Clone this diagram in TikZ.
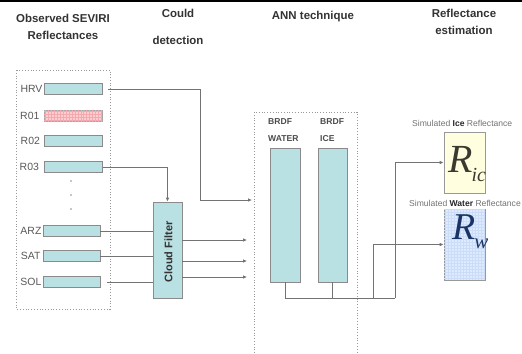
\documentclass[tikz,border=0pt]{standalone}
\usepackage{fontspec}
\setmainfont{Liberation Sans}
\newfontfamily\serifR{Liberation Serif}
\usetikzlibrary{arrows.meta,patterns}
\definecolor{barfill}{HTML}{B9E0E3}
\definecolor{barline}{HTML}{8A8A8A}
\definecolor{pinkfill}{HTML}{FFCDD0}
\definecolor{pinkgrid}{HTML}{F2A9B0}
\definecolor{icefill}{HTML}{FFFFE0}
\definecolor{wfill}{HTML}{DDEAFF}
\definecolor{wgrid}{HTML}{CADCF6}
\definecolor{rice}{HTML}{3A3A30}
\definecolor{rw}{HTML}{1B3466}
\begin{document}
\begin{tikzpicture}[x=1bp,y=-1bp,
  title/.style={font=\bfseries\fontsize{11.5}{17}\selectfont, text=black!80, align=center, inner sep=0},
  bar/.style={draw=barline, fill=barfill, line width=0.8bp, inner sep=0, minimum height=11bp},
  lab/.style={font=\fontsize{10.5}{11}\selectfont, text=black!65, anchor=east, inner sep=0},
  conn/.style={draw=black!55, line width=0.8bp},
  arr/.style={conn, -{Latex[length=4bp,width=3.6bp]}},
  dotbox/.style={draw=black!40, dotted, line width=0.8bp},
  small/.style={font=\fontsize{8.6}{10}\selectfont, text=black!55, inner sep=0, anchor=west},
  brdf/.style={font=\bfseries\fontsize{8.6}{17}\selectfont, text=black!70, inner sep=0, anchor=west, align=left}
]
\useasboundingbox (0,0) rectangle (522,353);
\fill[white] (0,0) rectangle (522,353);
\draw[line width=2.2bp] (0,1) -- (522,1);

% titles
\node[title] (t1) at (63,26.5) {Observed SEVIRI\\Reflectances};
\node[title] (t2a) at (178,13) {Could};
\node[title] (t2b) at (178,40) {detection};
\node[title] (t3) at (313,17) {ANN technique};
\node[title] (t4) at (464,22) {Reflectance\\estimation};

% left dotted box
\draw[dotbox] (16,70) rectangle (110,309);

% bars
\node[bar, minimum width=58bp] (HRV) at (73,89) {};
\node[bar, minimum width=58bp, fill=pinkfill, draw=black!35] (R01) at (73,116) {};
\fill[pattern=grid, pattern color=pinkgrid] ([shift={(0.6,-0.6)}]R01.south west) rectangle ([shift={(-0.6,0.6)}]R01.north east);
\node[bar, minimum width=58bp] (R02) at (73.5,141) {};
\node[bar, minimum width=58bp] (R03) at (73.5,167) {};
\node[bar, minimum width=57bp] (ARZ) at (71.5,231) {};
\node[bar, minimum width=57bp] (SAT) at (71.5,256) {};
\node[bar, minimum width=57bp] (SOL) at (71.5,282) {};

\node[lab] (lHRV) at ([xshift=-1bp]HRV.west) {HRV};
\node[lab] (lR01) at ([xshift=-4bp]R01.west) {R01};
\node[lab] (lR02) at ([xshift=-4bp]R02.west) {R02};
\node[lab] (lR03) at ([xshift=-5bp]R03.west) {R03};
\node[lab] (lARZ) at ([xshift=-1bp]ARZ.west) {ARZ};
\node[lab] (lSAT) at ([xshift=-2bp]SAT.west) {SAT};
\node[lab] (lSOL) at ([xshift=-1bp]SOL.west) {SOL};

\foreach \y in {181,195,209} \fill[black!45] (71,\y) circle (0.8);

% cloud filter
\node[bar, minimum width=29bp, minimum height=96bp] (cf) at (167.5,250) {};
\node[rotate=90, font=\bfseries\fontsize{11}{12}\selectfont, text=black!80, inner sep=0] (cft) at ([xshift=1bp,yshift=-2bp]cf.center) {Cloud Filter};

% ANN box
\draw[dotbox] (254,353) -- (254,112) -- (357,112) -- (357,353);
\node[brdf] (bw) at (268,130.5) {BRDF\\WATER};
\node[brdf] (bi) at (320,130.5) {BRDF\\ICE};
\node[bar, minimum width=30bp, minimum height=134bp] (W) at (285,215) {};
\node[bar, minimum width=29bp, minimum height=134bp] (I) at (332.5,215) {};

% coordinates
\coordinate (h1) at (252,200);
\coordinate (o1) at (247,240);
\coordinate (o2) at (247,261);
\coordinate (o3) at (247,277);
\coordinate (j1) at (285,298);
\coordinate (j2) at (373,298);
\coordinate (j3) at (395,298);

% output boxes
\node[draw=black!40, fill=icefill, line width=0.8bp, minimum width=41bp, minimum height=61bp, inner sep=0] (Ri) at (464.5,162.5) {};
\node[draw=black!40, fill=wfill, line width=0.8bp, minimum width=41bp, minimum height=71bp, inner sep=0] (Rw) at (464.5,244.5) {};
\fill[pattern=grid, pattern color=wgrid] ([shift={(0.6,-0.6)}]Rw.south west) rectangle ([shift={(-0.6,0.6)}]Rw.north east);
\begin{scope}
\clip (Ri.south west) rectangle (Ri.north east);
\node[anchor=west, inner sep=0, text=rice] (Rit) at (448,164) {\serifR\itshape\fontsize{40}{40}\selectfont R\kern-1bp\raisebox{-9bp}{\fontsize{20}{20}\selectfont ice}};
\end{scope}
\node[anchor=west, inner sep=0, text=rw] (Rwt) at (452,232) {\serifR\itshape\fontsize{38}{38}\selectfont R\kern-1bp\raisebox{-9bp}{\fontsize{21}{21}\selectfont w}};

\node[small] (si) at (412,123) {Simulated \textbf{\color{black!85}Ice} Reflectance};
\node[small] (sw) at (409,203) {Simulated \textbf{\color{black!85}Water} Reflectance};

% connectors
\draw[arr] ([xshift=6bp]HRV.east) -- (200,89) |- (h1);
\draw[arr] (R03.east) -| (cf.north);
\draw[conn] (ARZ.east) -- (ARZ.east -| cf.west);
\draw[conn] (SAT.east) -- (SAT.east -| cf.west);
\draw[conn] ([xshift=7bp]SOL.east) -- (SOL.east -| cf.west);
\draw[arr] (o1 -| cf.east) -- (o1);
\draw[arr] (o2 -| cf.east) -- (o2);
\draw[arr] (o3 -| cf.east) -- (o3);
\draw[conn] (W.south) -- (j1) -- (j3);
\draw[conn] (I.south) -- (I.south |- j1);
\draw[arr] (j2) |- (Rw.west);
\draw[arr] (j3) |- (Ri.west);
\end{tikzpicture}
\end{document}
